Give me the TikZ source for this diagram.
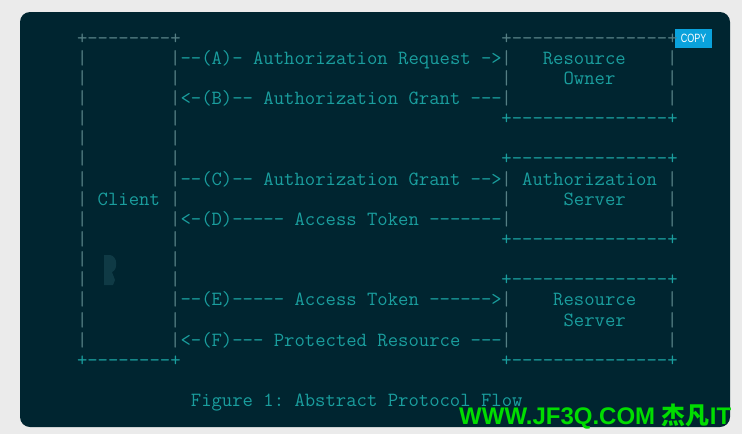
\documentclass[tikz,border=0pt]{standalone}
\usepackage{fontspec}
\setsansfont{Liberation Sans}
\setmonofont{Latin Modern Mono}
\newfontfamily\cjkfont{Noto Sans CJK SC}
\newfontfamily\copyfont{Liberation Sans}[FakeStretch=0.75]
\usepackage{tikz}
\usetikzlibrary{positioning}
\definecolor{pagegray}{HTML}{EBEBEB}
\definecolor{panelnavy}{HTML}{002530}
\definecolor{asciiteal}{HTML}{1A9E9E}
\definecolor{framegray}{HTML}{557F84}
\definecolor{ghostteal}{HTML}{0F3A45}
\definecolor{copyblue}{HTML}{0AA2DC}
\definecolor{markgreen}{HTML}{00DD00}
\newcommand{\asciifont}{\ttfamily\fontsize{20.13}{20}\selectfont\frenchspacing
  \fontdimen2\font=10.352pt\fontdimen3\font=0pt\fontdimen4\font=0pt}

\begin{document}
\begin{tikzpicture}[x=1pt, y=-1pt,
  asciitext/.style={anchor=base west, inner sep=0pt, outer sep=0pt, font=\asciifont, text=asciiteal},
  dimascii/.style={asciitext, text=framegray},
  pipechar/.style={asciitext, text=framegray}]
  \useasboundingbox (0,0) rectangle (742,434);
  \fill[pagegray] (0,0) rectangle (742,434);
  \fill[panelnavy, rounded corners=10pt] (20,12) rectangle (730,427);
  % faint cursor ghost
  \fill[ghostteal] (104,255) -- (110,255) .. controls (118,256) and (118,270) .. (112,272) -- (115,280) -- (113,285) -- (104,285) -- cycle;
  \node[fill=copyblue, minimum width=37pt, minimum height=19pt, inner sep=0pt, text=white, font=\copyfont\fontsize{12}{12}\selectfont] (copybtn) at (693.5,38.5) {COPY};

  \begin{scope}[x=10.352pt, y=-20.13pt, shift={(25.25pt,-44.2pt)}]
    % client box
    \node[dimascii] (clienttop) at (5,0) {+--------+};
    \node[asciitext] (clientbot) at (5,16) {+--------+};
    \foreach \r in {1,...,15} {
      \node[pipechar] (clientleft\r) at (5,\r) {|};
      \node[pipechar] (clientright\r) at (14,\r) {|};
    }
    \node[asciitext] (client) at (7,8) {Client};

    % server boxes
    \node[dimascii] (ownertop) at (46,0) {+---------------+};
    \node[asciitext] (ownerbot) at (46,4) {+---------------+};
    \node[asciitext] (authtop) at (46,6) {+---------------+};
    \node[asciitext] (authbot) at (46,10) {+---------------+};
    \node[asciitext] (restop) at (46,12) {+---------------+};
    \node[asciitext] (resbot) at (46,16) {+---------------+};
    \foreach \r in {1,2,3,7,8,9,13,14,15} {
      \node[pipechar] (boxleft\r) at (46,\r) {|};
      \node[pipechar] (boxright\r) at (62,\r) {|};
    }
    \node[asciitext] (owner1) at (50,1) {Resource};
    \node[asciitext] (owner2) at (52,2) {Owner};
    \node[asciitext] (auth1) at (48,7) {Authorization};
    \node[asciitext] (auth2) at (52,8) {Server};
    \node[asciitext] (res1) at (51,13) {Resource};
    \node[asciitext] (res2) at (52,14) {Server};

    % flows
    \node[asciitext] (flowA) at (15,1) {--(A)- Authorization Request ->};
    \node[asciitext] (flowB) at (15,3) {<-(B)-- Authorization Grant ---};
    \node[asciitext] (flowC) at (15,7) {--(C)-- Authorization Grant -->};
    \node[asciitext] (flowD) at (15,9) {<-(D)----- Access Token -------};
    \node[asciitext] (flowE) at (15,13) {--(E)----- Access Token ------>};
    \node[asciitext] (flowF) at (15,15) {<-(F)--- Protected Resource ---};

    \node[asciitext] (caption) at (16,18) {Figure 1: Abstract Protocol Flow};
  \end{scope}

  \node[anchor=base west, inner sep=0pt, text=markgreen, font=\sffamily\bfseries\fontsize{24}{25}\selectfont] (watermark) at (459,424) {WWW.JF3Q.COM {\cjkfont 杰凡}IT};
\end{tikzpicture}
\end{document}
